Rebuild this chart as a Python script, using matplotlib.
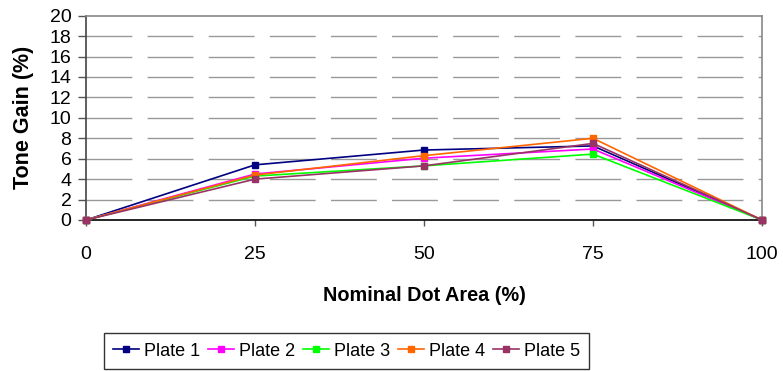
import numpy as np
import matplotlib.pyplot as plt

plt.rcParams['font.family'] = ['Liberation Sans', 'DejaVu Sans']

# nominal dot area (%) and measured tone gain (%) per plate
dot_area = [0, 25, 50, 75, 100]
plate1 = [0, 5.4, 6.85, 7.25, 0]
plate2 = [0, 4.5, 6.05, 6.95, 0]
plate3 = [0, 4.3, 5.3, 6.45, 0]
plate4 = [0, 4.4, 6.3, 8.0, 0]
plate5 = [0, 4.0, 5.3, 7.5, 0]

labels = ['Plate 1', 'Plate 2', 'Plate 3', 'Plate 4', 'Plate 5']
colors = ['#000080', '#FF00FF', '#00FF00', '#FF6600', '#993366']
series = [plate1, plate2, plate3, plate4, plate5]

fig = plt.figure(figsize=(7.83, 3.71), dpi=100)
ax = fig.add_axes([86 / 783, 151 / 371, 676 / 783, 204.3 / 371])

# dashed horizontal gridlines, Excel style
for yv in range(2, 20, 2):
    ax.axhline(yv, color='#999999', lw=1.0, zorder=1,
               linestyle=(0, (33, 11)))

for vals, lab, c in zip(series, labels, colors):
    ax.plot(dot_area, vals, color=c, lw=1.2, marker='s', ms=4.5,
            label=lab, zorder=3, clip_on=False)

ax.set_xlim(0, 100)
ax.set_ylim(0, 20)
ax.set_xticks(dot_area)
ax.set_yticks(range(0, 21, 2))
ax.tick_params(axis='x', length=4.5, width=1, pad=14, labelsize=14,
               color='#555555')
ax.tick_params(axis='y', length=5.5, width=1, pad=5, labelsize=14,
               color='#555555')

for side in ['top', 'right']:
    ax.spines[side].set_color('#888888')
    ax.spines[side].set_linewidth(1.2)
ax.spines['left'].set_color('#444444')
ax.spines['bottom'].set_color('#000000')
ax.spines['left'].set_linewidth(1.2)
ax.spines['bottom'].set_linewidth(1.2)

ax.set_xlabel('Nominal Dot Area (%)', fontsize=14.3, fontweight='bold',
              labelpad=17)
ax.set_ylabel('Tone Gain (%)', fontsize=15.5, fontweight='bold', labelpad=11)

leg = fig.legend(loc='center', bbox_to_anchor=(346.5 / 783, 1 - 351 / 371),
                 ncol=5, fontsize=13, frameon=True, fancybox=False,
                 handlelength=1.45, handletextpad=0.25, columnspacing=0.45,
                 borderpad=0.5, borderaxespad=0)
leg.get_frame().set_edgecolor('black')
leg.get_frame().set_linewidth(1.0)

fig.savefig('out.png', dpi=100)
